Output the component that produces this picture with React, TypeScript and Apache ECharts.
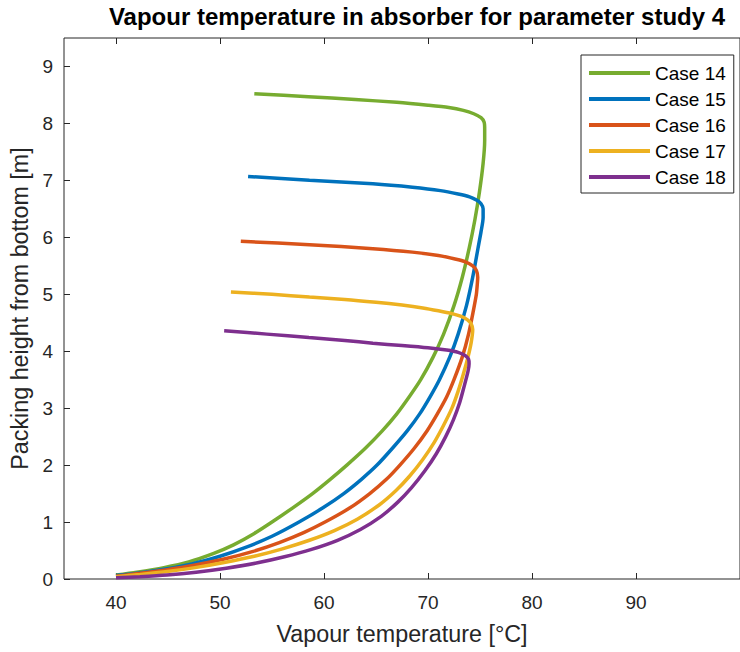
import React, { useEffect, useRef } from "react";
import * as echarts from "echarts";

const chartTitle = "Vapour temperature in absorber for parameter study 4";
const xAxisName = "Vapour temperature [°C]";
const yAxisName = "Packing height from bottom [m]";
const caseNames = ["Case 14", "Case 15", "Case 16", "Case 17", "Case 18"];
const caseColors = ["#77AC30", "#0072BD", "#D95319", "#EDB120", "#7E2F8E"];
const tempTicks = [40, 50, 60, 70, 80, 90];
const heightTicks = [0, 1, 2, 3, 4, 5, 6, 7, 8, 9];

// [vapour temperature (°C), packing height (m)]
const case14 = [
  [40.0, 0.07], [42.0, 0.12], [44.6, 0.2], [47.0, 0.3], [49.4, 0.45],
  [51.3, 0.6], [53.3, 0.8], [55.0, 1.0], [57.0, 1.25], [58.9, 1.5],
  [60.6, 1.75], [62.2, 2.0], [64.0, 2.3], [65.6, 2.6], [67.0, 2.9],
  [68.2, 3.2], [69.3, 3.5], [70.5, 3.9], [71.5, 4.3], [72.5, 4.8],
  [73.3, 5.3], [73.95, 5.8], [74.5, 6.3], [74.95, 6.8], [75.3, 7.3],
  [75.45, 7.7], [75.45, 7.9], [75.4, 8.02], [75.1, 8.1], [74.4, 8.17],
  [73.4, 8.23], [72.0, 8.28], [70.0, 8.32], [67.0, 8.37], [63.0, 8.42],
  [58.5, 8.47], [53.3, 8.52],
];
const case15 = [
  [40.0, 0.06], [42.0, 0.1], [44.6, 0.17], [47.2, 0.26], [50.0, 0.4],
  [52.4, 0.55], [55.0, 0.75], [57.6, 1.0], [59.9, 1.25], [61.9, 1.5],
  [63.6, 1.75], [65.1, 2.0], [66.6, 2.3], [68.0, 2.6], [69.2, 2.9],
  [70.2, 3.2], [71.1, 3.5], [72.1, 3.9], [72.9, 4.3], [73.7, 4.8],
  [74.3, 5.3], [74.8, 5.8], [75.1, 6.1], [75.3, 6.35], [75.3, 6.5],
  [75.1, 6.59], [74.7, 6.65], [74.0, 6.71], [72.9, 6.76], [71.2, 6.82],
  [68.5, 6.88], [64.7, 6.94], [58.6, 7.0], [52.7, 7.07],
];
const case16 = [
  [40.0, 0.05], [42.3, 0.1], [44.8, 0.16], [47.5, 0.24], [50.4, 0.35],
  [53.1, 0.48], [55.7, 0.64], [58.1, 0.82], [60.1, 1.0], [62.5, 1.25],
  [64.4, 1.5], [66.0, 1.75], [67.3, 2.0], [68.7, 2.3], [69.9, 2.6],
  [70.9, 2.9], [71.8, 3.2], [72.5, 3.5], [73.3, 3.9], [73.9, 4.3],
  [74.35, 4.7], [74.65, 5.0], [74.75, 5.2], [74.78, 5.3], [74.65, 5.42],
  [74.3, 5.5], [73.6, 5.57], [72.6, 5.62], [71.0, 5.68], [68.5, 5.74],
  [64.7, 5.8], [58.6, 5.87], [52.0, 5.93],
];
const case17 = [
  [40.0, 0.04], [42.3, 0.08], [44.9, 0.13], [47.6, 0.2], [50.4, 0.29],
  [53.3, 0.4], [56.0, 0.53], [58.6, 0.68], [61.0, 0.85], [63.2, 1.05],
  [65.3, 1.3], [66.9, 1.55], [68.2, 1.8], [69.5, 2.1], [70.6, 2.4],
  [71.5, 2.7], [72.3, 3.0], [72.9, 3.3], [73.4, 3.6], [73.85, 3.9],
  [74.15, 4.15], [74.3, 4.38], [74.15, 4.48], [73.8, 4.55], [73.2, 4.61],
  [72.3, 4.66], [71.0, 4.71], [69.5, 4.76], [67.5, 4.81], [65.0, 4.86],
  [62.0, 4.91], [58.6, 4.95], [55.0, 5.0], [51.05, 5.04],
];
const case18 = [
  [40.0, 0.02], [42.3, 0.04], [44.9, 0.07], [47.7, 0.12], [50.6, 0.19],
  [53.5, 0.28], [56.2, 0.39], [58.8, 0.52], [61.3, 0.68], [63.5, 0.87],
  [65.5, 1.1], [67.1, 1.35], [68.4, 1.6], [69.7, 1.9], [70.8, 2.2],
  [71.7, 2.5], [72.45, 2.8], [73.05, 3.1], [73.5, 3.4], [73.85, 3.65],
  [73.95, 3.78], [73.9, 3.86], [73.6, 3.92], [72.9, 3.98], [71.8, 4.02],
  [70.0, 4.06], [67.5, 4.1], [64.7, 4.14], [62.0, 4.19], [58.55, 4.24],
  [54.5, 4.3], [50.4, 4.36],
];
const caseData = [case14, case15, case16, case17, case18];

const FONT = "'Liberation Sans', Arial, Helvetica, sans-serif";
const AXIS_COLOR = "#262626";

export default function App() {
  const ref = useRef<HTMLDivElement>(null);
  useEffect(() => {
    if (!ref.current) return;
    const chart = echarts.init(ref.current, null, { renderer: "svg" });
    const xBase = {
      type: "value",
      min: 35,
      max: 100,
      splitLine: { show: false },
      axisLine: { show: false },
    };
    chart.setOption({
      animation: false,
      backgroundColor: "#ffffff",
      grid: {
        left: 64,
        top: 38,
        width: 707,
        height: 541,
        show: true,
        borderColor: AXIS_COLOR,
        borderWidth: 1,
        backgroundColor: "#ffffff",
      },
      graphic: [
        {
          type: "text",
          x: 417,
          y: 4,
          style: {
            text: chartTitle,
            font: `bold 24px ${FONT}`,
            fill: "#000000",
            align: "center",
            verticalAlign: "top",
          },
        },
      ],
      legend: {
        orient: "vertical",
        left: 581,
        top: 55,
        padding: [8, 8, 6, 8],
        itemGap: 6,
        itemWidth: 61,
        itemHeight: 4,
        icon: "rect",
        borderColor: AXIS_COLOR,
        borderWidth: 1,
        backgroundColor: "#ffffff",
        textStyle: { fontFamily: FONT, fontSize: 19, color: "#000000", lineHeight: 20 },
        data: caseNames,
      },
      xAxis: [
        {
          ...xBase,
          position: "bottom",
          name: xAxisName,
          nameLocation: "middle",
          nameGap: 43,
          nameTextStyle: { fontFamily: FONT, fontSize: 23.3, color: AXIS_COLOR },
          axisTick: { show: true, inside: true, length: 6, lineStyle: { color: AXIS_COLOR }, customValues: tempTicks },
          axisLabel: { fontFamily: FONT, fontSize: 19, color: AXIS_COLOR, margin: 14, customValues: tempTicks },
        },
        {
          ...xBase,
          position: "top",
          axisTick: { show: true, inside: true, length: 6, lineStyle: { color: AXIS_COLOR }, customValues: tempTicks },
          axisLabel: { show: false },
        },
      ],
      yAxis: [
        {
          type: "value",
          min: 0,
          max: 9.5,
          splitLine: { show: false },
          axisLine: { show: false },
          name: yAxisName,
          nameLocation: "middle",
          nameGap: 24,
          nameTextStyle: { fontFamily: FONT, fontSize: 23.3, color: AXIS_COLOR },
          axisTick: { show: true, inside: true, length: 6, lineStyle: { color: AXIS_COLOR }, customValues: heightTicks },
          axisLabel: { fontFamily: FONT, fontSize: 19, color: AXIS_COLOR, margin: 11, customValues: heightTicks },
        },
      ],
      series: caseNames.map((name, i) => ({
        name,
        type: "line",
        xAxisIndex: 0,
        yAxisIndex: 0,
        data: caseData[i],
        showSymbol: false,
        symbol: "none",
        smooth: 0.25,
        color: caseColors[i],
        lineStyle: { width: 3.5, color: caseColors[i] },
      })),
    });
    return () => chart.dispose();
  }, []);
  return (
    <div
      ref={ref}
      style={{ position: "fixed", left: 0, top: 0, width: 740, height: 652 }}
    />
  );
}
